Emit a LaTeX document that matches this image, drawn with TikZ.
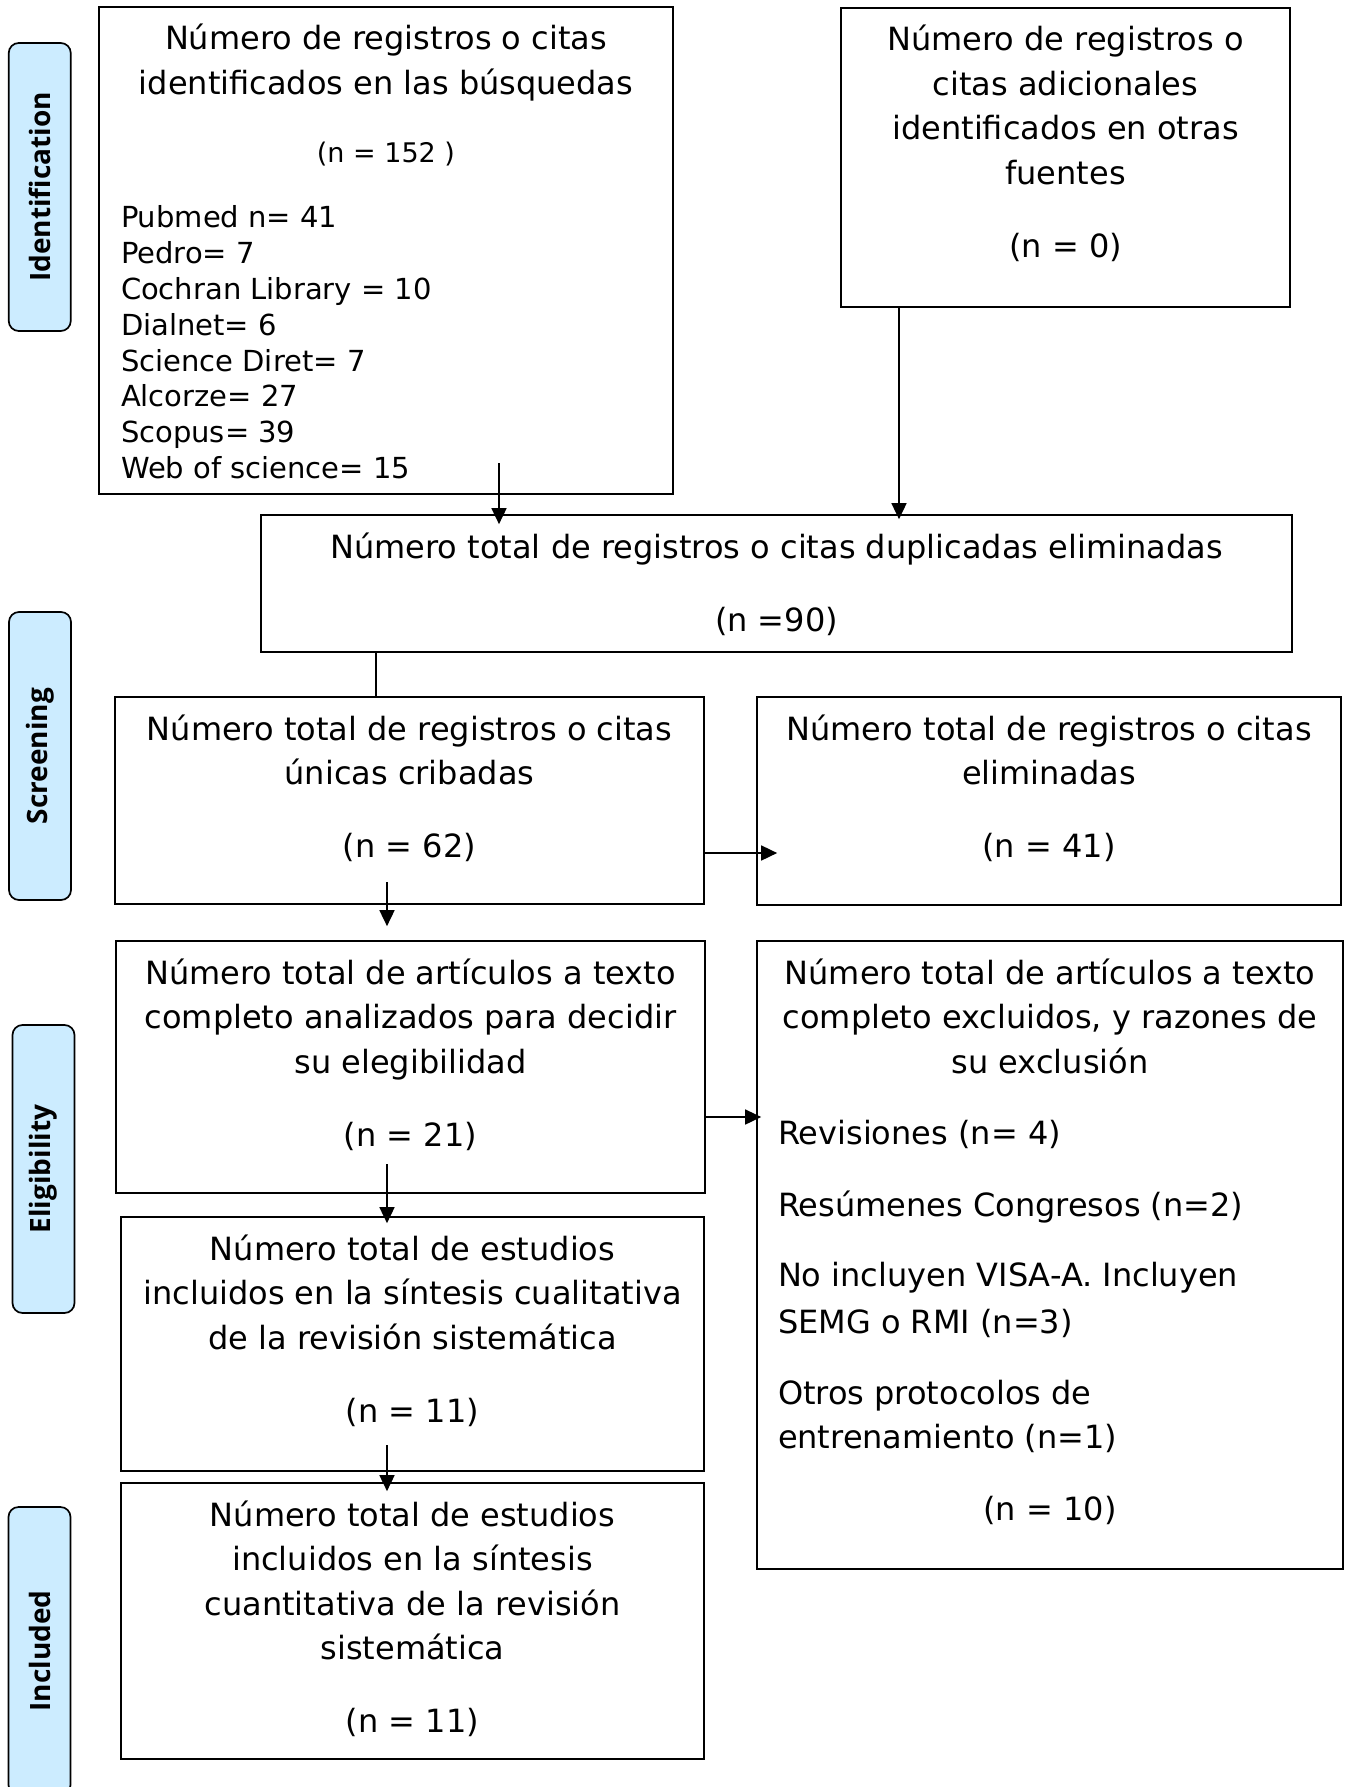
\documentclass[tikz,border=0pt]{standalone}
\usepackage{fontspec}
\setmainfont{DejaVu Sans}
\newfontfamily\etiqfont{Open Sans}
\usepackage{tikz}
\usetikzlibrary{arrows.meta, positioning}
\definecolor{faseazul}{RGB}{204,236,255}
\newcommand{\boxtxt}[3]{\parbox[c][#2pt][t]{#1pt}{\rule{0pt}{43pt}#3}}

\begin{document}
\begin{tikzpicture}[x=1pt, y=-1pt, >={Triangle[length=16pt,width=15pt]},
        line width=1.7pt,
        caja/.style={draw, inner sep=0pt, font=\fontsize{32}{44.5}\selectfont},
        fase/.style={draw, fill=faseazul, rounded corners=10pt, rotate=90,
                     inner sep=0pt, minimum width=288pt, minimum height=62pt,
                     font=\etiqfont\bfseries\fontsize{28}{30}\selectfont}]
      \path[use as bounding box, fill=white] (0,0) rectangle (1346,1787);
      \node[fase] (fid)  at (39.75,187) {Identification};
      \node[fase] (fscr) at (40,756)    {Screening};
      \node[fase] (feli) at (43.5,1169) {Eligibility};
      \node[fase] (finc) at (39.5,1651) {Included};
      \node[caja] (busq) at (386,250.5) {\boxtxt{574}{487}{\centering
          Número de registros o citas\\ identificados en las búsquedas\\[23.5pt]
          {\fontsize{27}{30}\selectfont (n = 152 )}\par\vspace{29.6pt}
          {\raggedright\leftskip=22pt\fontsize{29}{35.8}\selectfont
          Pubmed n= 41\\ Pedro= 7\\ Cochran Library = 10\\ Dialnet= 6\\
          Science Diret= 7\\ Alcorze= 27\\ Scopus= 39\\ Web of science= 15\par}}};
      \node[caja] (otras) at (1065.5,157.5) {\boxtxt{449}{299}{\centering
          Número de registros o\\ citas adicionales\\ identificados en otras\\
          fuentes\\[29pt] (n = 0)}};
      \node[caja] (dup) at (776.5,583.5) {\boxtxt{1031}{137}{\centering
          Número total de registros o citas duplicadas eliminadas\\[29pt] (n =90)}};
      \node[caja] (scrL) at (409.5,800.5) {\boxtxt{589}{207}{\centering
          Número total de registros o citas\\ únicas cribadas\\[28pt] (n = 62)}};
      \node[caja] (scrR) at (1049,801) {\boxtxt{584}{208}{\centering
          Número total de registros o citas\\ eliminadas\\[28pt] (n = 41)}};
      \node[caja] (eligL) at (410.5,1067) {\boxtxt{589}{252}{\centering
          Número total de artículos a texto\\ completo analizados para decidir\\
          su elegibilidad\\[28.5pt] (n = 21)}};
      \node[caja] (eligR) at (1050,1255) {\boxtxt{586}{628}{{\centering
          Número total de artículos a texto\\ completo excluidos, y razones de\\
          su exclusión\par}\vspace{26.5pt}
          {\raggedright\leftskip=21pt
          Revisiones (n= 4)\\[27.5pt] Resúmenes Congresos (n=2)\\[26pt]
          No incluyen VISA-A. Incluyen\\[2pt] SEMG o RMI (n=3)\\[26.5pt]
          Otros protocolos de\\ entrenamiento (n=1)\par}\vspace{27.5pt}
          {\centering (n = 10)\par}}};
      \node[caja] (qual) at (412.5,1344) {\boxtxt{583}{254}{\centering
          Número total de estudios\\ incluidos en la síntesis cualitativa\\
          de la revisión sistemática\\[29pt] (n = 11)}};
      \node[caja] (quant) at (412.5,1621) {\boxtxt{583}{276}{\centering
          Número total de estudios\\ incluidos en la síntesis\\
          cuantitativa de la revisión\\ sistemática\\[28.5pt] (n = 11)}};
      \coordinate (s1) at (499,463);
      \coordinate (c2) at (899,0);
      \coordinate (c3) at (376,0);
      \coordinate (h4) at (0,853);
      \coordinate (s5) at (387,882);
      \coordinate (h6) at (0,1117);
      \coordinate (s7) at (387,1164);
      \coordinate (s8) at (387,1445);
      \draw[->, shorten >=-10pt] (s1) -- (s1 |- dup.north);
      \draw[->, shorten >=-5pt] (otras.south -| c2) -- (dup.north -| c2);
      \draw (dup.south -| c3) -- (scrL.north -| c3);
      \draw[->, shorten >=-21pt] (scrL.east |- h4) -- (scrR.west |- h4);
      \draw[->, shorten >=14pt] (s5) -- (s5 |- eligL.north);
      \draw[->, shorten >=-5pt] (eligL.east |- h6) -- (eligR.west |- h6);
      \draw[->, shorten >=-7pt] (s7) -- (s7 |- qual.north);
      \draw[->, shorten >=-9pt] (s8) -- (s8 |- quant.north);
    \end{tikzpicture}
\end{document}
